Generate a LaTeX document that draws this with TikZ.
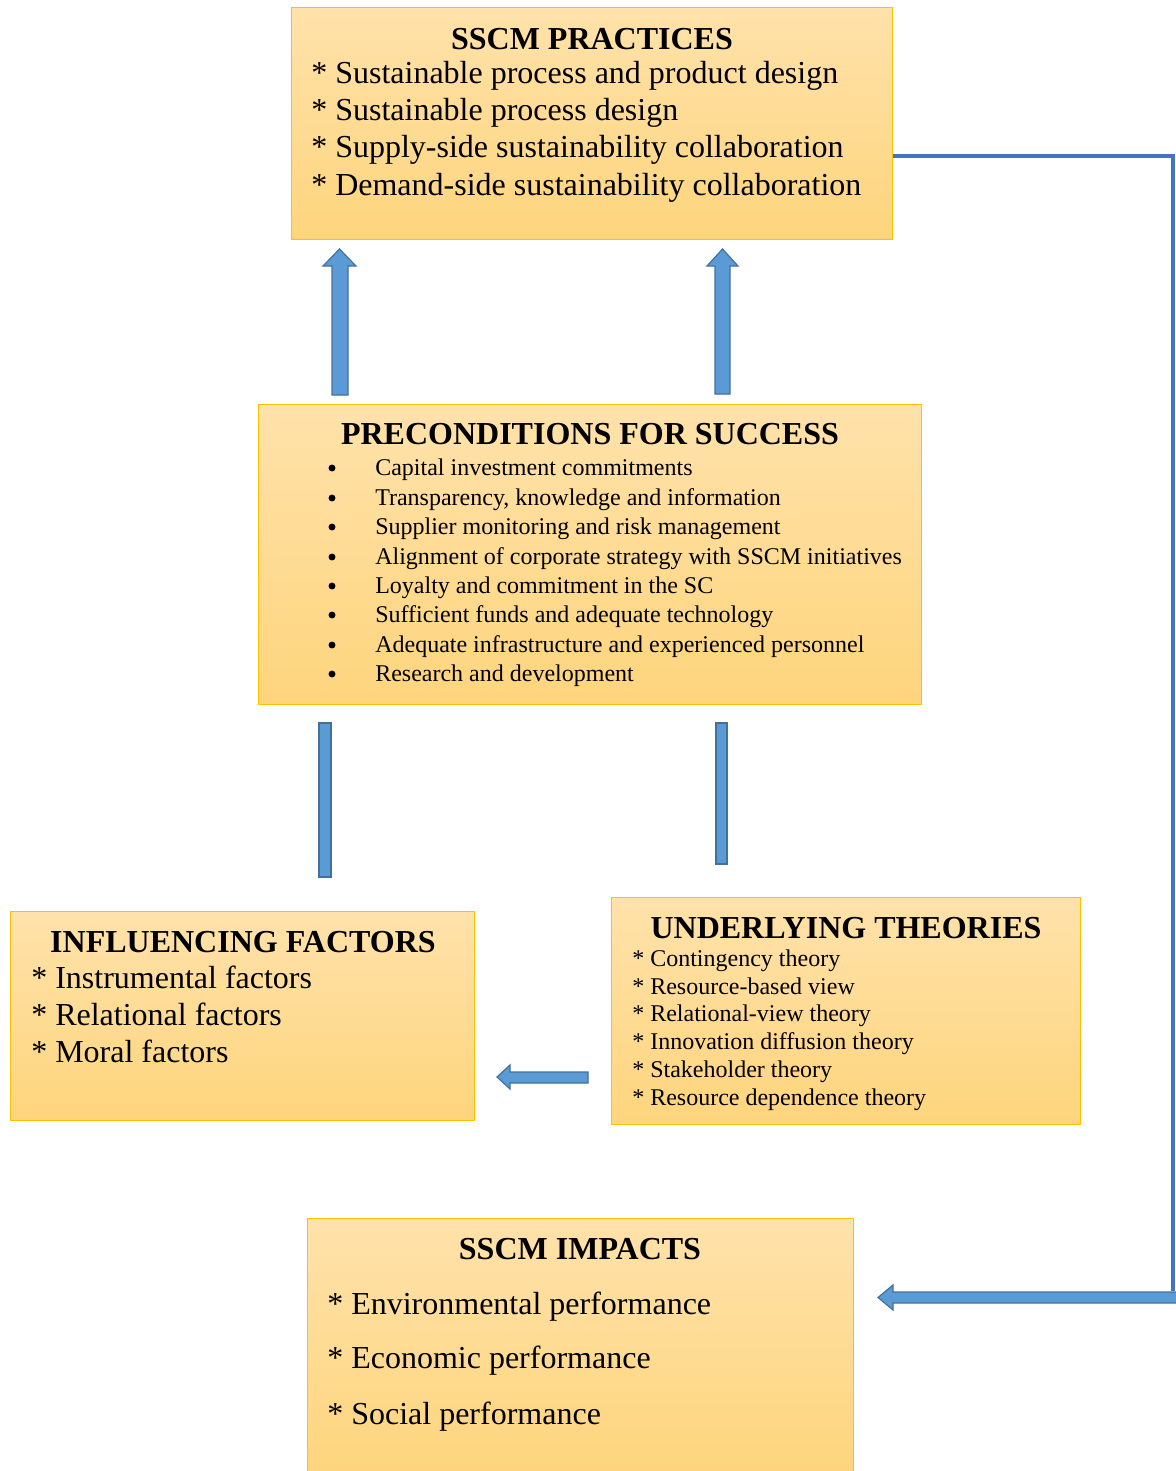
\documentclass[tikz,border=0pt]{standalone}
\usepackage{fontspec}
\setmainfont{Liberation Serif}
\definecolor{boxtop}{HTML}{FFE2AB}
\definecolor{boxbot}{HTML}{FED57D}
\definecolor{boxborder}{HTML}{FFC000}
\definecolor{arrfill}{HTML}{5B9BD5}
\definecolor{arrdraw}{HTML}{41719C}
\definecolor{connblue}{HTML}{4472C4}
\tikzset{
  box/.style={draw=boxborder, line width=0.9pt, top color=boxtop, bottom color=boxbot, anchor=north west, inner sep=0pt},
  blockarrow/.style={fill=arrfill, draw=arrdraw, line width=0.9pt, line join=miter},
  conn/.style={draw=connblue, line width=2.4pt},
  bigtitle/.style={font=\fontsize{24}{28}\selectfont\bfseries, anchor=base, inner sep=0pt},
  bigitem/.style={font=\fontsize{24}{28}\selectfont, anchor=base west, inner sep=0pt},
  smallitem/.style={font=\fontsize{18}{21}\selectfont, anchor=base west, inner sep=0pt},
  bulletmark/.style={circle, fill=black, inner sep=0pt, minimum size=5.2pt}
}
\newcommand{\mkbox}[5]{\node[box, minimum width={(#4-#2)*0.75pt}, minimum height={(#5-#3)*0.75pt}] (#1) at (#2,#3) {};}
\begin{document}
\begin{tikzpicture}[x=0.75pt, y=-0.75pt]
\useasboundingbox (0,0) rectangle (1176,1471);
% boxes
\mkbox{practices}{291}{7}{892}{239}
\mkbox{precond}{258}{404}{921}{704}
\mkbox{influence}{10}{911}{474}{1120}
\mkbox{theories}{611}{897}{1080}{1124}
\mkbox{impacts}{307}{1218}{853}{1474}

% SSCM practices
\node[bigtitle] (t1) at (592,49) {SSCM PRACTICES};
\foreach [count=\i] \t/\y in {{Sustainable process and product design}/83,{Sustainable process design}/120,{Supply-side sustainability collaboration}/157,{Demand-side sustainability collaboration}/195}
  \node[bigitem] (pr\i) at (311,\y) {* \t};

% Preconditions
\node[bigtitle] (t2) at (590,444) {PRECONDITIONS FOR SUCCESS};
\foreach [count=\i] \t/\y in {{Capital investment commitments}/475,{Transparency, knowledge and information}/505,{Supplier monitoring and risk management}/534,{Alignment of corporate strategy with SSCM initiatives}/564,{Loyalty and commitment in the SC}/593,{Sufficient funds and adequate technology}/622,{Adequate infrastructure and experienced personnel}/652,{Research and development}/681}
  {\node[bulletmark] (pb\i) at (332,\y-7) {};
   \node[smallitem] (pc\i) at (375,\y) {\t};}

% Influencing factors
\node[bigtitle] (t3) at (243,952) {INFLUENCING FACTORS};
\foreach [count=\i] \t/\y in {{Instrumental factors}/988,{Relational factors}/1025,{Moral factors}/1062}
  \node[bigitem] (if\i) at (31,\y) {* \t};

% Underlying theories
\node[bigtitle] (t4) at (846,938) {UNDERLYING THEORIES};
\foreach [count=\i] \t/\y in {{Contingency theory}/966,{Resource-based view}/994,{Relational-view theory}/1021,{Innovation diffusion theory}/1049,{Stakeholder theory}/1077,{Resource dependence theory}/1105}
  \node[smallitem] (ut\i) at (632,\y) {* \t};

% SSCM impacts
\node[bigtitle] (t5) at (580,1259) {SSCM IMPACTS};
\foreach [count=\i] \t/\y in {{Environmental performance}/1314,{Economic performance}/1368,{Social performance}/1424}
  \node[bigitem] (im\i) at (327,\y) {* \t};

% block arrows up (precond -> practices)
\draw[blockarrow] (332,395) -- (332,266) -- (323,266) -- (339.5,249) -- (356,266) -- (348,266) -- (348,395) -- cycle;
\draw[blockarrow] (715,394) -- (715,266) -- (707,266) -- (722.5,249) -- (738,266) -- (730,266) -- (730,394) -- cycle;
% bars
\draw[blockarrow] (319,723) rectangle (331,877);
\draw[blockarrow] (716,723) rectangle (727,864);
% left arrow theories -> influencing
\draw[blockarrow] (588,1072) -- (510,1072) -- (510,1065) -- (497,1077) -- (510,1089) -- (510,1083) -- (588,1083) -- cycle;

% connector from practices to impacts
\coordinate (c1) at (1173,156);
\coordinate (c2) at (1173,1291);
\draw[conn] (practices.east |- c1) -- (c1) -- (c2);
\draw[blockarrow] (1178,1292) -- (893,1292) -- (893,1285) -- (878,1297.5) -- (893,1310) -- (893,1303) -- (1178,1303);
\end{tikzpicture}
\end{document}
